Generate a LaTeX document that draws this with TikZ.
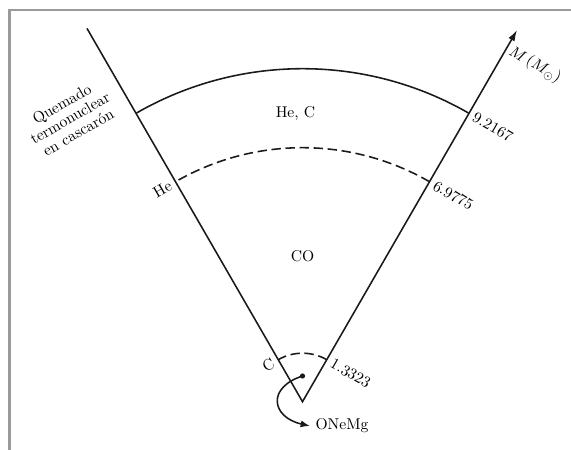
\documentclass[tikz,border=0pt]{standalone}
\usetikzlibrary{arrows.meta}
\definecolor{framecol}{HTML}{9A9A9A}
\definecolor{inkcol}{HTML}{1A1A1A}

\tikzset{
	shell/.style={line width=1pt,draw=inkcol},
	shellbound/.style={shell,dash pattern=on 6pt off 3pt},
	masslab/.style={rotate=-30,anchor=west,inner sep=3.5pt},
	elemlab/.style={rotate=30,anchor=east,inner sep=3.5pt}
}

\begin{document}
\begin{tikzpicture}[x=0.64pt,y=0.64pt]
\useasboundingbox (-302.5,-48.3) rectangle (268.5,401.7);
% frame
\draw[framecol,line width=1.3pt] (-293,-48.3) -- (-293,391.7) -- (268.5,391.7);
% cone
\coordinate (apex) at (0,0);
\coordinate (ltop) at (120:431);
\coordinate (rtip) at (60:429);
\draw[shell,-{Latex[length=7pt,width=4.5pt]}] (ltop) -- (apex) -- (rtip);
% shells
\draw[shell] (60:333) arc[start angle=60,end angle=120,radius=333];
\node[masslab] (m1) at (60:333) {9.2167};
\foreach \r/\val/\elem [count=\i from 2] in {
	254/6.9775/He,
	48.5/1.3323/C%
	}{
	\draw[shellbound] (60:\r) arc[start angle=60,end angle=120,radius=\r];
	\node[masslab] (m\i) at (60:\r) {\val};
	\node[elemlab] (e\i) at (120:\r) {\elem};
	}
\node[rotate=-30] (axis) at (232.5,336.7) {$M\,(M_\odot)$};
\node[rotate=30,align=center,font=\linespread{0.88}\selectfont] (burn) at (-232.5,283.7) {Quemado\\termonuclear\\en cascarón};
\node (hec) at (-7,288) {He, C};
\node (co) at (0,146) {CO};
% core
\fill[inkcol] (0,25.7) circle (2.6) coordinate (dot);
\node (onemg) at (39.5,-24.3) {ONeMg};
\draw[shell,-{Latex[length=6pt,width=4.5pt]}] (dot) .. controls (-36,14) and (-31,-15.5) .. (onemg.west);
\end{tikzpicture}
\end{document}
